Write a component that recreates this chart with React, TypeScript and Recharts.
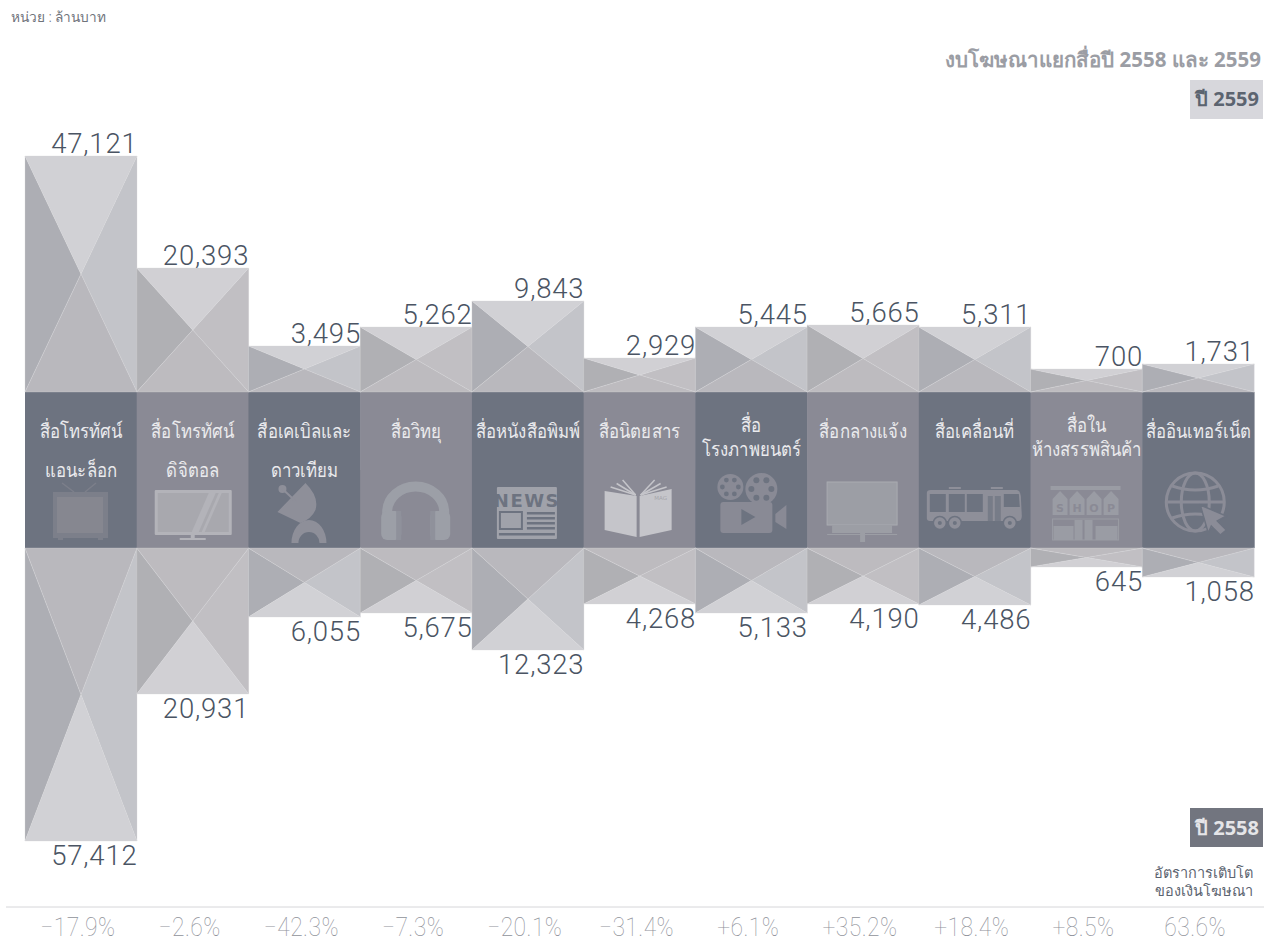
import React from "react";
import { ComposedChart, Bar, XAxis, YAxis, Cell, LabelList } from "recharts";

// Media categories, in reading order
const mediaLine1 = ["สื่อโทรทัศน์", "สื่อโทรทัศน์", "สื่อเคเบิลและ", "สื่อวิทยุ", "สื่อหนังสือพิมพ์", "สื่อนิตยสาร", "สื่อ", "สื่อกลางแจ้ง", "สื่อเคลื่อนที่", "สื่อใน", "สื่ออินเทอร์เน็ต"];
const mediaLine2 = ["แอนะล็อก", "ดิจิตอล", "ดาวเทียม", "", "", "", "โรงภาพยนตร์", "", "", "ห้างสรรพสินค้า", ""];
const tightLabel = [false, false, false, false, false, false, true, false, false, true, false];

// Printed values (million baht)
const budget2559 = [47121, 20393, 3495, 5262, 9843, 2929, 5445, 5665, 5311, 700, 1731];
const budget2558 = [57412, 20931, 6055, 5675, 12323, 4268, 5133, 4190, 4486, 645, 1058];
const growth = ["−17.9%", "−2.6%", "−42.3%", "−7.3%", "−20.1%", "−31.4%", "+6.1%", "+35.2%", "+18.4%", "+8.5%", "63.6%"];

// The original is an infographic whose bars are not proportional to the printed numbers:
// these are the lengths as drawn.
const drawnLength2559 = [236, 124, 46, 65, 91, 34, 65, 67, 65, 23, 28];
const drawnLength2558 = [293, 146, 69, 65, 102, 56, 65, 56, 57, 19, 29];
const bandHalfHeight = [78, 78, 78, 78, 78, 78, 78, 78, 78, 78, 78];

const data = mediaLine1.map((m, i) => ({
  key: growth[i],
  up: bandHalfHeight[i],
  down: -bandHalfHeight[i],
  top: drawnLength2559[i],
  bottom: -drawnLength2558[i],
  v2559: budget2559[i],
  v2558: budget2558[i],
}));

const FONT = "'Noto Sans', 'DejaVu Sans', sans-serif";
const DIGITS = "Roboto, sans-serif";
const bandDark = "#6d7380";
const bandLight = "#8a8a95";

function Facets({ x, y, width, height, isTop, index }: any) {
  const h = Math.abs(height);
  const y0 = height < 0 ? y + height : y;
  const cx = x + width / 2;
  const cy = y0 + h / 2;
  const r = x + width;
  const b = y0 + h;
  const odd = index % 2 === 1;
  const outer = odd ? "#d1d0d4" : "#d1d1d5";
  const inner = odd ? "#bdbbbf" : "#b9b8bd";
  const left = odd ? "#b0b0b4" : "#adaeb4";
  const right = odd ? "#c1bfc3" : "#c3c4c9";
  const edge = { stroke: "#d8d8db", strokeWidth: 0.5, strokeOpacity: 0.6 };
  return (
    <g>
      <polygon points={`${x},${y0} ${cx},${cy} ${x},${b}`} fill={left} {...edge} />
      <polygon points={`${r},${y0} ${cx},${cy} ${r},${b}`} fill={right} {...edge} />
      <polygon points={`${x},${y0} ${r},${y0} ${cx},${cy}`} fill={isTop ? outer : inner} {...edge} />
      <polygon points={`${x},${b} ${r},${b} ${cx},${cy}`} fill={isTop ? inner : outer} {...edge} />
    </g>
  );
}

function Icon({ i }: { i: number }) {
  switch (i) {
    case 0:
      return (
        <g>
          <path d="M37 91 L49 100 M71 91 L60 100" stroke="#7c7f8a" strokeWidth={1.5} />
          <rect x={28} y={100} width={55} height={46} fill="#7c7f8a" />
          <rect x={32} y={105} width={46} height={36} fill="#868790" />
          <rect x={33} y={146} width={5} height={2} fill="#7c7f8a" />
          <rect x={73} y={146} width={5} height={2} fill="#7c7f8a" />
        </g>
      );
    case 1:
      return (
        <g>
          <rect x={18} y={98} width={77} height={45} rx={1} fill="#b3b3b9" />
          <rect x={21} y={101} width={71} height={39} fill="#a8a8ae" />
          <polygon points="55,140 72,101 79,101 62,140" fill="#b3b3b9" />
          <polygon points="65,140 82,101 85,101 68,140" fill="#b3b3b9" />
          <rect x={54} y={143} width={4} height={3} fill="#b3b3b9" />
          <rect x={43} y={146} width={26} height={2} fill="#b3b3b9" />
        </g>
      );
    case 2:
      return (
        <g fill="#8e8f99">
          <path d="M57 91 Q71 105 67 118 Q63 127 52 131 Z M57 91 L29 120 L52 131 Z" />
          <circle cx={34} cy={97} r={4} />
          <path d="M34 97 L48 110" stroke="#8e8f99" strokeWidth={2} />
          <path d="M43 151 A17.5 23 0 0 1 78 151 L71 151 A10.5 11 0 0 0 50 151 Z" />
        </g>
      );
    case 3:
      return (
        <g>
          <path d="M27 128 V120 A28 25 0 0 1 84 120 V128" fill="none" stroke="#9c9fa7" strokeWidth={10} />
          <rect x={21} y={119} width={20} height={29} rx={6} fill="#9c9fa7" />
          <rect x={70} y={119} width={20} height={29} rx={6} fill="#9c9fa7" />
          <rect x={36} y={119} width={5} height={29} fill="#8f919b" />
          <rect x={70} y={119} width={5} height={29} fill="#8f919b" />
        </g>
      );
    case 4:
      return (
        <g>
          <rect x={25} y={95} width={60} height={52} rx={1} fill="#a0a2aa" />
          <text x={55} y={115} textAnchor="middle" fontFamily="'DejaVu Sans', sans-serif" fontSize={18} fontWeight={700} letterSpacing={1.5} fill={bandDark}>NEWS</text>
          <rect x={27} y={119} width={24} height={19} fill={bandDark} />
          <rect x={29} y={121} width={20} height={15} fill="#a0a2aa" />
          {[120, 125, 130, 135].map((yy) => <rect key={yy} x={55} y={yy} width={28} height={2.5} fill={bandDark} />)}
          <rect x={27} y={141} width={56} height={2.5} fill={bandDark} />
        </g>
      );
    case 5:
      return (
        <g fill="#c5c5ca">
          <polygon points="21,99 53,104 53,145 21,138" />
          <polygon points="56,104 88,97 88,138 56,145" />
          {[0, 1, 2].map((k) => (
            <g key={k}>
              <path d={`M${52 - k * 0} 103 L${27 + k * 6} ${95 - k * 3.5}`} stroke="#c5c5ca" strokeWidth={1.5} />
              <path d={`M57 103 L${83 - k * 6} ${95 - k * 3.5}`} stroke="#c5c5ca" strokeWidth={1.5} />
            </g>
          ))}
          <text x={77} y={108} textAnchor="middle" fontSize={5.5} fontFamily="'DejaVu Sans', sans-serif" fill="#a5a5ab">MAG</text>
        </g>
      );
    case 6:
      return (
        <g fill="#898a95">
          <circle cx={35} cy={95} r={13} />
          <circle cx={66} cy={97} r={16} />
          {[0, 60, 120, 180, 240, 300].map((a) => (
            <g key={a} fill={bandDark}>
              <circle cx={35 + 8 * Math.cos((a * Math.PI) / 180)} cy={95 + 8 * Math.sin((a * Math.PI) / 180)} r={2.4} />
              <circle cx={66 + 10 * Math.cos((a * Math.PI) / 180)} cy={97 + 10 * Math.sin((a * Math.PI) / 180)} r={3} />
            </g>
          ))}
          <rect x={25} y={110} width={52} height={31} rx={3} />
          <polygon points="80,122 91,113 91,137 80,130" />
          <polygon points="46,117 60,125 46,133" fill={bandDark} />
        </g>
      );
    case 7:
      return (
        <g>
          <rect x={20} y={90} width={70} height={43} fill="#9c9ea5" stroke="#a9abb1" strokeWidth={1} />
          <rect x={25} y={133} width={60} height={8} fill="#9c9ea5" />
          <rect x={20} y={142} width={70} height={1} fill="#9c9ea5" />
          <rect x={53} y={141} width={5} height={9} fill="#9c9ea5" />
        </g>
      );
    case 8:
      return (
        <g>
          <path d="M8 101 Q8 98 12 98 H98 Q101 98 102 104 L103 124 Q103 129 99 129 H11 Q8 129 8 126 Z" fill="#8e8f99" />
          <rect x={30} y={95} width={12} height={2} fill="#8e8f99" />
          <rect x={72} y={95} width={12} height={2} fill="#8e8f99" />
          {[[11, 16], [30, 16], [48, 16]].map(([xx, w]) => <rect key={xx} x={xx} y={102} width={w} height={18} fill={bandDark} />)}
          <rect x={69} y={104} width={5} height={28} fill={bandDark} opacity={0.7} />
          <rect x={76} y={104} width={6} height={28} fill={bandDark} opacity={0.7} />
          <polygon points="85,102 100,102 101,115 85,115" fill={bandDark} />
          {[21, 36, 91].map((cx) => (
            <g key={cx}>
              <circle cx={cx} cy={131} r={6.5} fill="#8e8f99" stroke={bandDark} strokeWidth={1.5} />
              <circle cx={cx} cy={131} r={2} fill={bandDark} />
            </g>
          ))}
        </g>
      );
    case 9:
      return (
        <g>
          <rect x={20} y={94} width={70} height={4} fill="#9a9ca4" />
          {["S", "H", "O", "P"].map((c, k) => (
            <g key={c}>
              <polygon points={`${22 + k * 17},107 ${29.5 + k * 17},99 ${37 + k * 17},107 ${37 + k * 17},123 ${22 + k * 17},123`} fill="#9a9ca4" />
              <text x={29.5 + k * 17} y={120} textAnchor="middle" fontSize={11} fontWeight={700} fontFamily="'DejaVu Sans', sans-serif" fill={bandLight}>{c}</text>
            </g>
          ))}
          <rect x={22} y={127} width={66} height={21} fill="none" stroke="#9a9ca4" strokeWidth={1} />
          <rect x={44} y={128} width={8} height={20} fill="#9a9ca4" />
          <rect x={54} y={128} width={8} height={20} fill="#9a9ca4" />
          <rect x={23} y={134} width={20} height={14} fill="#9a9ca4" />
          <rect x={65} y={134} width={22} height={14} fill="#9a9ca4" />
        </g>
      );
    default:
      return (
        <g fill="none" stroke="#8b8c97" strokeWidth={3}>
          <circle cx={53} cy={110} r={29} />
          <ellipse cx={53} cy={110} rx={14} ry={29} />
          <path d="M25 110 H81 M30 94 Q53 102 76 94 M30 126 Q53 118 76 126" />
          <polygon points="58,113 84,124 75,129 84,138 78,143 69,134 66,141" fill="#8b8c97" stroke={bandDark} strokeWidth={1.5} />
        </g>
      );
  }
}

function BandLine({ cx, y, children }: any) {
  return (
    <text transform={`translate(${cx},${y}) scale(0.86,1)`} textAnchor="middle" fontFamily={FONT} fontWeight={300} fontSize={19.5} fill="#eaeaed">
      {children}
    </text>
  );
}

function BandShape(props: any) {
  const { x, y, width, height, index } = props;
  const top = y;
  const fill = index % 2 === 0 ? bandDark : bandLight;
  const cx = width / 2;
  const two = mediaLine2[index] !== "";
  const tight = tightLabel[index];
  const y1 = tight ? 40 : 46;
  const y2 = tight ? 64 : 85;
  return (
    <g>
      <rect x={x} y={top} width={width + 0.3} height={height * 2} fill={fill} />
      <g transform={`translate(${x},${top})`}>
        <Icon i={index} />
        <BandLine cx={cx} y={y1}>{mediaLine1[index]}</BandLine>
        {two && <BandLine cx={cx} y={y2}>{mediaLine2[index]}</BandLine>}
      </g>
    </g>
  );
}

function ValueLabel(props: any) {
  const { x, y, width, height, value, isTop } = props;
  const edge = isTop ? Math.min(y, y + height) - 3 : Math.max(y, y + height) + 24;
  return (
    <text x={x + width + 0.5} y={edge} textAnchor="end" fontFamily={DIGITS} fontWeight={300} fontSize={27.5} fill="#4a5463" letterSpacing={0.8}>
      {Number(value).toLocaleString("en-US")}
    </text>
  );
}

function GrowthTick(props: any) {
  const { x, y, payload } = props;
  return (
    <text transform={`translate(${x - 3},${y + 21}) scale(0.88,1)`} textAnchor="middle" fontFamily={DIGITS} fontWeight={100} fontSize={26} letterSpacing={0.5} fill="#8f929a">
      {payload.value}
    </text>
  );
}

export default function App() {
  return (
    <div style={{ position: "absolute", left: 0, top: 0, width: 1264, height: 937, background: "#fff", overflow: "hidden" }}>
      <ComposedChart
        width={1264}
        height={937}
        data={data}
        margin={{ top: 13, right: 0, bottom: 0, left: 6 }}
        stackOffset="sign"
        barCategoryGap={0}
        barGap={0}
      >
        <XAxis dataKey="key" height={30} interval={0} padding={{ left: 19, right: 10 }} tickLine={false} axisLine={{ stroke: "#d6d6d9", strokeWidth: 1 }} tick={<GrowthTick />} />
        <YAxis width={0} domain={[-437, 457]} tick={false} tickLine={false} axisLine={{ stroke: "#d6d6d9", strokeWidth: 1 }} />
        <Bar dataKey="down" stackId="a" isAnimationActive={false} fill={bandDark}>
          {data.map((d, i) => <Cell key={d.key} fill={i % 2 === 0 ? bandDark : bandLight} />)}
        </Bar>
        <Bar dataKey="up" stackId="a" isAnimationActive={false} shape={BandShape} />
        <Bar dataKey="top" stackId="a" isAnimationActive={false} shape={(p: any) => <Facets {...p} isTop={true} />}>
          <LabelList dataKey="v2559" content={(p: any) => <ValueLabel {...p} isTop={true} />} />
        </Bar>
        <Bar dataKey="bottom" stackId="a" isAnimationActive={false} shape={(p: any) => <Facets {...p} isTop={false} />}>
          <LabelList dataKey="v2558" content={(p: any) => <ValueLabel {...p} isTop={false} />} />
        </Bar>
      </ComposedChart>
      <svg width={1264} height={937} style={{ position: "absolute", left: 0, top: 0, pointerEvents: "none" }}>
        <text x={11} y={22} fontFamily={FONT} fontSize={13.7} fontWeight={300} fill="#6f737b">หน่วย : ล้านบาท</text>
        <text x={1261} y={67} textAnchor="end" fontFamily={FONT} fontWeight={700} fontSize={20.5} fill="#9b9da4">งบโฆษณาแยกสื่อปี 2558 และ 2559</text>
        <rect x={1190} y={80} width={73} height={39} fill="#d7d7dc" />
        <text x={1259} y={106} textAnchor="end" fontFamily={FONT} fontWeight={700} fontSize={20} fill="#5c6470">ปี 2559</text>
        <rect x={1190} y={808} width={73} height={39} fill="#72757f" />
        <text x={1259} y={835} textAnchor="end" fontFamily={FONT} fontWeight={700} fontSize={20} fill="#e5e5e8">ปี 2558</text>
        <text x={1253} y={878} textAnchor="end" fontFamily={FONT} fontSize={14.5} fontWeight={300} fill="#5c6470">อัตราการเติบโต</text>
        <text x={1253} y={896} textAnchor="end" fontFamily={FONT} fontSize={14.5} fontWeight={300} fill="#5c6470">ของเงินโฆษณา</text>
      </svg>
    </div>
  );
}
